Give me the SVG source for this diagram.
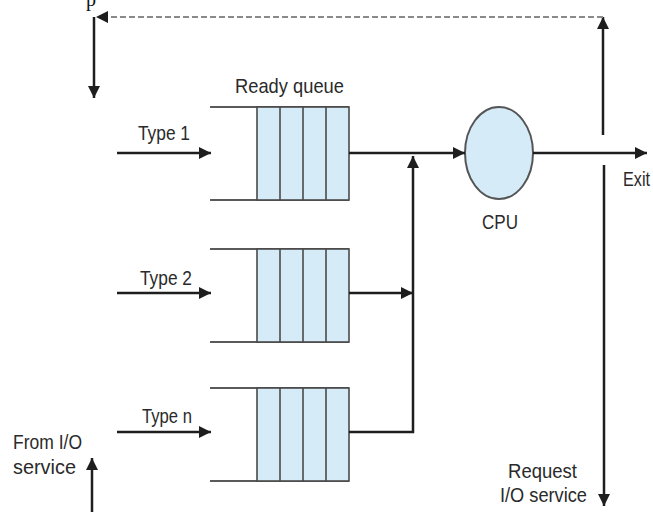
<svg xmlns="http://www.w3.org/2000/svg" width="653" height="512" viewBox="0 0 653 512">
<style>
text{font-family:"Liberation Sans",Arial,sans-serif;font-size:21px;fill:#2a2a2a}
.ql{stroke:#5a5a5a;stroke-width:2;fill:none}
.cell{fill:#d5ecf8;stroke:#4a4a4a;stroke-width:1.6}
.c{stroke:#1e1e1e;stroke-width:2.5;fill:none}
.d{stroke:#8a8a8a;stroke-width:2;fill:none;stroke-dasharray:6 3}
</style>
<defs>
<marker id="ah" viewBox="0 0 12 12" refX="12" refY="6" markerWidth="12" markerHeight="12" markerUnits="userSpaceOnUse" orient="auto"><path d="M0,0 L12,6 L0,12 z" fill="#1e1e1e"/></marker>
</defs>
<rect width="653" height="512" fill="#fff"/>
<text x="86" y="6" style="font-family:'Liberation Serif',serif;font-size:20px;fill:#111">p</text>
<g id="queue1">
<path class="ql" d="M210,107 H349 M210,200 H349"/>
<rect class="cell" x="257" y="107" width="92" height="93"/>
<path class="cell" d="M280,107 V200 M303,107 V200 M326,107 V200"/>
</g>
<g id="queue2">
<path class="ql" d="M210,249 H349 M210,342 H349"/>
<rect class="cell" x="257" y="249" width="92" height="93"/>
<path class="cell" d="M280,249 V342 M303,249 V342 M326,249 V342"/>
</g>
<g id="queueN">
<path class="ql" d="M210,388 H349 M210,481 H349"/>
<rect class="cell" x="257" y="388" width="92" height="93"/>
<path class="cell" d="M280,388 V481 M303,388 V481 M326,388 V481"/>
</g>
<g id="cpu">
<ellipse cx="499" cy="153" rx="34" ry="46" fill="#d5ecf8" stroke="#555" stroke-width="2"/>
<text x="482" y="229" textLength="36" lengthAdjust="spacingAndGlyphs">CPU</text>
</g>
<g id="labels">
<text x="235" y="93" textLength="109" lengthAdjust="spacingAndGlyphs">Ready queue</text>
<text x="138" y="140" textLength="52" lengthAdjust="spacingAndGlyphs">Type 1</text>
<text x="140" y="285" textLength="52" lengthAdjust="spacingAndGlyphs">Type 2</text>
<text x="142" y="423" textLength="50" lengthAdjust="spacingAndGlyphs">Type n</text>
<text x="623" y="186" textLength="27" lengthAdjust="spacingAndGlyphs">Exit</text>
<text x="13" y="449" textLength="69" lengthAdjust="spacingAndGlyphs">From I/O</text>
<text x="13" y="474" textLength="63" lengthAdjust="spacingAndGlyphs">service</text>
<text x="508" y="478" textLength="69" lengthAdjust="spacingAndGlyphs">Request</text>
<text x="500" y="502" textLength="87" lengthAdjust="spacingAndGlyphs">I/O service</text>
</g>
<g id="connectors">
<path class="c" d="M117,153 H211" marker-end="url(#ah)"/>
<path class="c" d="M117,293 H211" marker-end="url(#ah)"/>
<path class="c" d="M117,432 H211" marker-end="url(#ah)"/>
<path class="c" d="M349,153 H465" marker-end="url(#ah)"/>
<path class="c" d="M349,293 H413" marker-end="url(#ah)"/>
<path class="c" d="M349,432 H413 V156" marker-end="url(#ah)"/>
<path class="c" d="M533,153 H647" marker-end="url(#ah)"/>
<path class="c" d="M603,135 V17" marker-end="url(#ah)"/>
<path class="d" d="M603,17 H106"/>
<path d="M108,11 L96,17 L108,23 z" fill="#1e1e1e"/>
<path class="c" d="M94,17 V98" marker-end="url(#ah)"/>
<path class="c" d="M604,165 V506" marker-end="url(#ah)"/>
<path class="c" d="M92,512 V458" marker-end="url(#ah)"/>
</g>
</svg>
